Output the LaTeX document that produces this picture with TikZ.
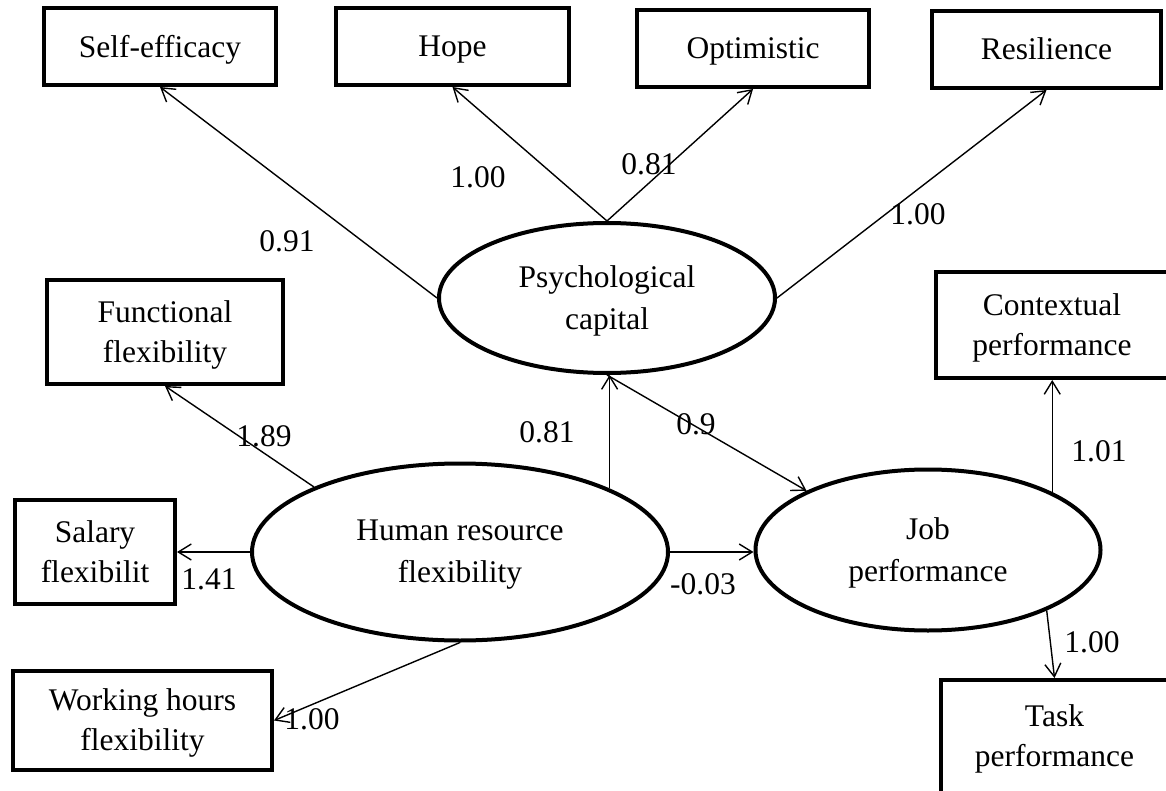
\documentclass[tikz,border=0pt]{standalone}
\usepackage{fontspec}
\setmainfont{Liberation Serif}
\usetikzlibrary{arrows.meta,shapes.geometric}

\tikzset{
  txt/.style={font=\fontsize{31.5}{40}\selectfont,align=center,inner sep=0pt,text depth=1pt},
  obsbox/.style={txt,draw,line width=4pt,rectangle},
  latent/.style={txt,font=\fontsize{31.5}{42}\selectfont,draw,line width=4pt,ellipse},
  loadarrow/.style={line width=1.4pt,-{Straight Barb[length=13pt,width=16pt]}},
  coef/.style={txt}
}

\begin{document}
\begin{tikzpicture}[x=1pt,y=-1pt]
\useasboundingbox (0,0) rectangle (1166,791);
\node[obsbox,minimum width=232pt,minimum height=77pt] (se) at (160,46.5) {Self-efficacy};
\node[obsbox,minimum width=233pt,minimum height=77pt] (hope) at (452.5,46.5) {Hope};
\node[obsbox,minimum width=232pt,minimum height=77pt] (opt) at (753,48.5) {Optimistic};
\node[obsbox,minimum width=229pt,minimum height=77pt] (res) at (1046.5,49.5) {Resilience};
\node[obsbox,minimum width=236pt,minimum height=104pt] (func) at (165,332) {Functional\\flexibility};
\node[obsbox,minimum width=160pt,minimum height=104pt] (sal) at (95,552) {Salary\\flexibilit};
\node[obsbox,minimum width=259pt,minimum height=99pt] (work) at (142.5,720.5) {Working hours\\flexibility};
\node[obsbox,minimum width=232pt,minimum height=106pt] (ctx) at (1052,325) {Contextual\\performance};
\node[obsbox,minimum width=227pt,minimum height=113pt] (task) at (1054.5,736.5) {Task\\performance};

\node[latent,minimum width=336pt,minimum height=150pt] (psy) at (607,298) {Psychological\\capital};
\node[latent,minimum width=416pt,minimum height=177pt] (hr) at (460,552) {Human resource\\flexibility};
\node[latent,minimum width=345pt,minimum height=161pt] (job) at (928,550) {Job\\performance};

\draw[loadarrow] (psy.west) -- (se.south);
\draw[loadarrow] (psy.north) -- (hope.south);
\draw[loadarrow] (psy.north) -- (opt.south);
\draw[loadarrow] (psy.east) -- (res.south);
\draw[loadarrow] (hr.156) -- (func.south);
\draw[loadarrow] (hr.west) -- (sal.east);
\draw[loadarrow] (hr.south) -- (work.east);
\draw[loadarrow] (hr.23) -- (hr.23 |- psy.south);
\draw[loadarrow] (psy.south) -- (job.154);
\draw[loadarrow] (hr.east) -- (hr.east -| job.west);
\draw[loadarrow] (job.25) -- (job.25 |- ctx.south);
\draw[loadarrow] (job.333) -- (task.north);

\node[coef] (c1) at (287,242) {0.91};
\node[coef] (c2) at (478,178) {1.00};
\node[coef] (c3) at (649,165) {0.81};
\node[coef] (c4) at (918,215) {1.00};
\node[coef] (c5) at (264,437) {1.89};
\node[coef] (c6) at (547,433) {0.81};
\node[coef] (c7) at (696,425) {0.9};
\node[coef] (c8) at (1099,452) {1.01};
\node[coef] (c9) at (209,580) {1.41};
\node[coef] (c10) at (703,585) {-0.03};
\node[coef] (c11) at (312,720) {1.00};
\node[coef] (c12) at (1092,643) {1.00};
\end{tikzpicture}
\end{document}
